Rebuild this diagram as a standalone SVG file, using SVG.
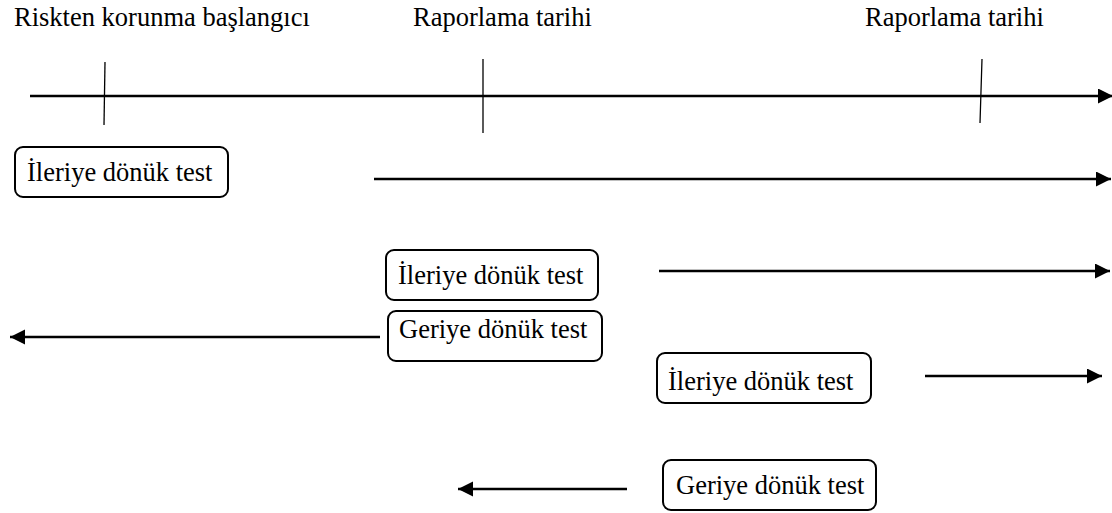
<svg xmlns="http://www.w3.org/2000/svg" width="1112" height="513" viewBox="0 0 1112 513">
<style>
  .t { font-family: 'Liberation Serif', 'Times New Roman', serif; font-size: 26.5px; fill: #000; }
  .box { fill: #fff; stroke: #000; stroke-width: 2; }
  .conn { stroke: #000; stroke-width: 2.5; fill: none; }
  .tick { stroke: #000; stroke-width: 1.3; fill: none; }
</style>
<defs>
  <marker id="ah" markerUnits="userSpaceOnUse" markerWidth="16" markerHeight="16" refX="15" refY="7.5" orient="auto">
    <path d="M0,0 L15,7.5 L0,15 Z" fill="#000"/>
  </marker>
</defs>
<rect width="1112" height="513" fill="#fff"/>
<g id="labels">
  <text class="t" x="14" y="26">Riskten korunma başlangıcı</text>
  <text class="t" x="413" y="26">Raporlama tarihi</text>
  <text class="t" x="865" y="26">Raporlama tarihi</text>
</g>
<g id="timeline">
  <line class="conn" x1="30" y1="96" x2="1113" y2="96" marker-end="url(#ah)"/>
  <line class="tick" x1="105" y1="62" x2="104" y2="125"/>
  <line class="tick" x1="483" y1="59" x2="483" y2="133"/>
  <line class="tick" x1="982" y1="59" x2="980" y2="123"/>
</g>
<g id="connectors">
  <line class="conn" x1="374" y1="179" x2="1111" y2="179" marker-end="url(#ah)"/>
  <line class="conn" x1="659" y1="271" x2="1110" y2="271" marker-end="url(#ah)"/>
  <line class="conn" x1="380" y1="337" x2="10" y2="337" marker-end="url(#ah)"/>
  <line class="conn" x1="925" y1="376" x2="1102" y2="376" marker-end="url(#ah)"/>
  <line class="conn" x1="627" y1="489" x2="458" y2="489" marker-end="url(#ah)"/>
</g>
<g id="node1">
  <rect class="box" x="15" y="147" width="213" height="50" rx="8"/>
  <text class="t" x="27" y="181">İleriye dönük test</text>
</g>
<g id="node2">
  <rect class="box" x="386" y="250" width="212" height="50" rx="8"/>
  <text class="t" x="398" y="284">İleriye dönük test</text>
</g>
<g id="node3">
  <rect class="box" x="388" y="311" width="214" height="50" rx="8"/>
  <text class="t" x="399" y="338">Geriye dönük test</text>
</g>
<g id="node4">
  <rect class="box" x="657" y="353" width="214" height="50" rx="8"/>
  <text class="t" x="668" y="390">İleriye dönük test</text>
</g>
<g id="node5">
  <rect class="box" x="663" y="460" width="213" height="50" rx="8"/>
  <text class="t" x="676" y="494">Geriye dönük test</text>
</g>
</svg>
